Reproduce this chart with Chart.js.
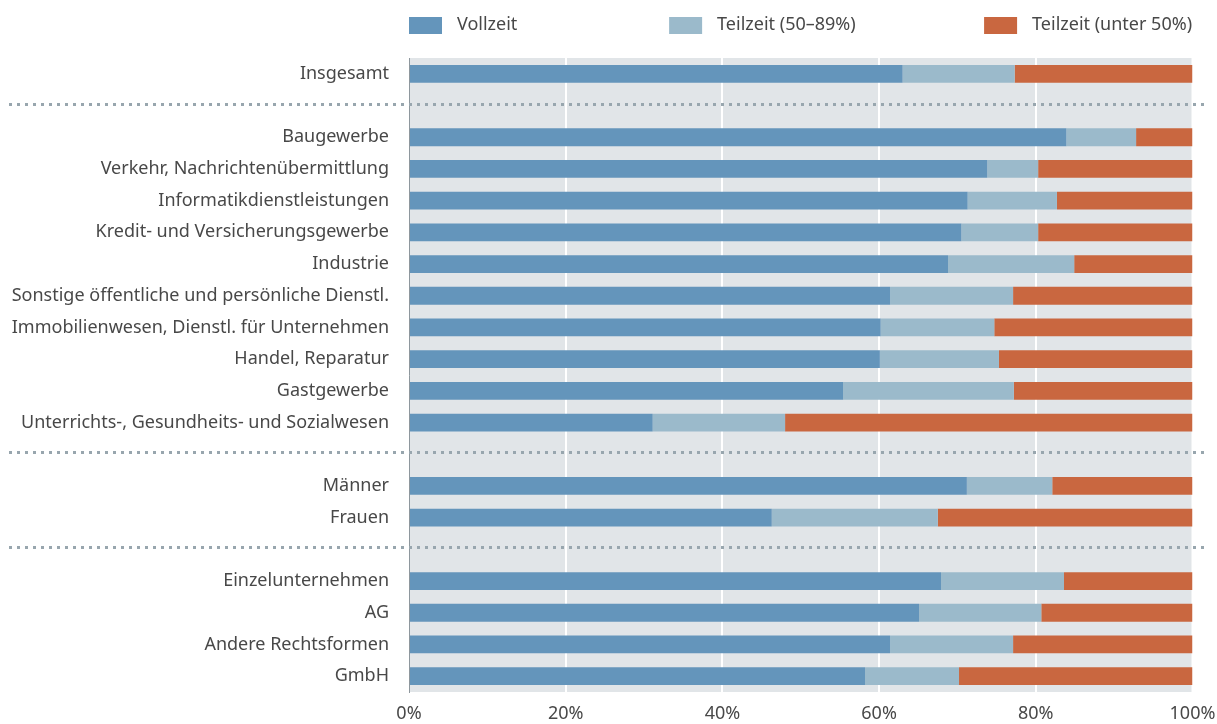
<!DOCTYPE html>
<html>
<head>
<meta charset="utf-8">
<script src="https://cdn.jsdelivr.net/npm/chart.js@4/dist/chart.umd.min.js"></script>
<style>
  html, body { margin: 0; padding: 0; background: #fff; }
  #wrap { width: 1217px; height: 724px; position: relative; }
</style>
</head>
<body>
<div id="wrap"><canvas id="chart"></canvas></div>
<script>
'use strict';

// Categories ('' = separator row with dotted line)
var categories = [
  'Insgesamt',
  '',
  'Baugewerbe',
  'Verkehr, Nachrichtenübermittlung',
  'Informatikdienstleistungen',
  'Kredit- und Versicherungsgewerbe',
  'Industrie',
  'Sonstige öffentliche und persönliche Dienstl.',
  'Immobilienwesen, Dienstl. für Unternehmen',
  'Handel, Reparatur',
  'Gastgewerbe',
  'Unterrichts-, Gesundheits- und Sozialwesen',
  '',
  'Männer',
  'Frauen',
  '',
  'Einzelunternehmen',
  'AG',
  'Andere Rechtsformen',
  'GmbH'
];

var vollzeit = [63.0, null, 83.9, 73.8, 71.3, 70.5, 68.8, 61.4, 60.2, 60.1, 55.4, 31.1, null, 71.2, 46.3, null, 67.9, 65.1, 61.4, 58.2];
var teilzeit50bis89 = [14.3, null, 8.9, 6.5, 11.4, 9.8, 16.1, 15.7, 14.5, 15.2, 21.8, 16.9, null, 10.9, 21.2, null, 15.7, 15.6, 15.7, 12.0];
var teilzeitUnter50 = [22.7, null, 7.2, 19.7, 17.3, 19.7, 15.1, 22.9, 25.3, 24.7, 22.8, 52.0, null, 17.9, 32.5, null, 16.4, 19.3, 22.9, 29.8];

var seriesLabels = ['Vollzeit', 'Teilzeit (50–89%)', 'Teilzeit (unter 50%)'];
var seriesColors = ['#6495bb', '#9bbacb', '#c96740'];
var xTicks = [0, 20, 40, 60, 80, 100];

var FONT = 'Noto Sans';
var FONT_SIZE = 18;
var TEXT = '#484848';

// Gray plot background
var plotBg = {
  id: 'plotBg',
  beforeDraw: function(chart){
    var a = chart.chartArea, ctx = chart.ctx;
    ctx.save();
    ctx.fillStyle = '#e1e5e8';
    ctx.fillRect(a.left, a.top, a.right - a.left - 1, a.bottom - a.top);
    ctx.restore();
  }
};

// Dotted separator lines on empty category rows
var separators = {
  id: 'separators',
  afterDatasetsDraw: function(chart){
    var y = chart.scales.y, ctx = chart.ctx;
    ctx.save();
    ctx.strokeStyle = '#98a6ae';
    ctx.lineWidth = 3;
    ctx.setLineDash([3, 5]);
    categories.forEach(function(c, i){
      if(c !== '') return;
      var py = Math.round(y.getPixelForValue(i)) - 1.5;
      ctx.beginPath();
      ctx.moveTo(9, py);
      ctx.lineTo(1205, py);
      ctx.stroke();
    });
    ctx.restore();
  }
};

// Legend spread over the plot width
var topLegend = {
  id: 'topLegend',
  afterDraw: function(chart){
    var a = chart.chartArea, ctx = chart.ctx;
    var starts = [0, 0.332, 0.734];
    ctx.save();
    ctx.font = FONT_SIZE + 'px "' + FONT + '"';
    ctx.textBaseline = 'middle';
    seriesLabels.forEach(function(lbl, i){
      var x = a.left + starts[i] * (a.right - a.left);
      ctx.fillStyle = seriesColors[i];
      ctx.fillRect(x, 17, 33, 17);
      ctx.fillStyle = TEXT;
      ctx.fillText(lbl, x + 48, 25);
    });
    ctx.restore();
  }
};

var datasets = [vollzeit, teilzeit50bis89, teilzeitUnter50].map(function(d, i){
  return {
    label: seriesLabels[i],
    data: d,
    backgroundColor: seriesColors[i],
    borderWidth: 0,
    barPercentage: 0.56,
    categoryPercentage: 1
  };
});

var ctx = document.getElementById('chart').getContext('2d');
window.myBar = new Chart(ctx, {
  type: 'bar',
  data: { labels: categories, datasets: datasets },
  plugins: [plotBg, separators, topLegend],
  options: {
    indexAxis: 'y',
    responsive: true,
    maintainAspectRatio: false,
    animation: false,
    layout: { padding: { top: 58, right: 24.5, left: 0, bottom: 0 } },
    plugins: { legend: { display: false }, tooltip: { enabled: false } },
    scales: {
      x: {
        stacked: true,
        min: 0,
        max: 100,
        afterBuildTicks: function(scale){
          scale.ticks = xTicks.map(function(v){ return { value: v }; });
        },
        afterFit: function(scale){
          scale.height = 32;
          scale.paddingLeft = 0;
          scale.paddingRight = 0;
        },
        border: { display: false },
        grid: {
          drawTicks: false,
          lineWidth: 2,
          color: function(c){
            return (c.tick && (c.tick.value === 0 || c.tick.value === 100)) ? 'rgba(0,0,0,0)' : '#ffffff';
          }
        },
        ticks: {
          padding: 11,
          color: TEXT,
          font: { family: FONT, size: FONT_SIZE },
          callback: function(v){ return v + '%'; }
        }
      },
      y: {
        stacked: true,
        afterFit: function(scale){
          scale.width = 409;
          scale.paddingTop = 0;
          scale.paddingBottom = 0;
        },
        border: { display: true, color: '#8e979d', width: 1 },
        grid: { display: false, drawTicks: false },
        ticks: {
          autoSkip: false,
          padding: 20,
          color: TEXT,
          font: { family: FONT, size: FONT_SIZE }
        }
      }
    }
  }
});
</script>
</body>
</html>
